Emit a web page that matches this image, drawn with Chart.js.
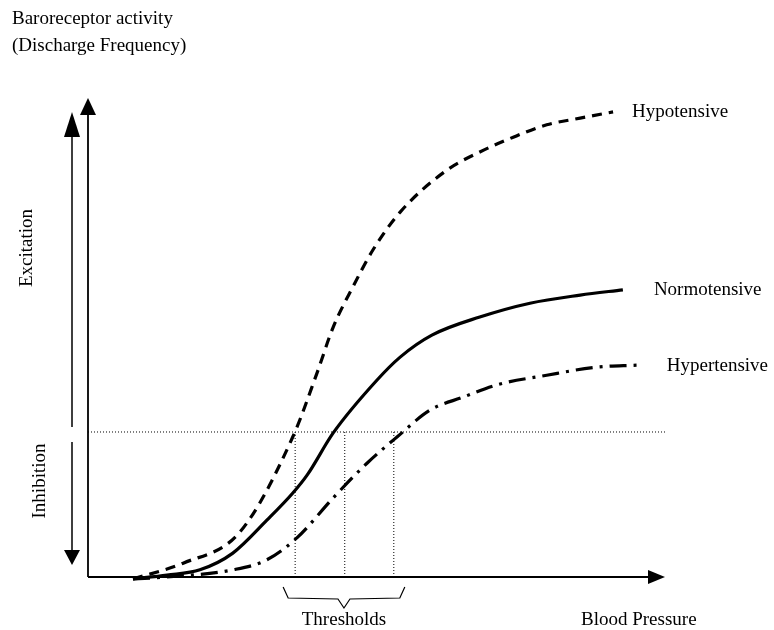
<!DOCTYPE html>
<html>
<head>
<meta charset="utf-8">
<script src="https://cdn.jsdelivr.net/npm/chart.js@4/dist/chart.umd.min.js"></script>
<style>
html,body{margin:0;padding:0;background:#fff;}
#wrap{width:774px;height:630px;}
</style>
</head>
<body>
<div id="wrap"><canvas id="baroChart" width="774" height="630"></canvas></div>
<script>
// Blood pressure (x) vs discharge frequency (y), arbitrary units 0-100

const hypoX = [7.8,16.5,26.3,35.5,39.7,42.5,45.9,49.4,54.1,62.2,67.9,73.7,79.5,85.3,91.0];
const hypoY = [-0.4,2.9,9.4,29.4,42.8,52.4,60.8,68.6,76.5,85.3,89.1,92.2,94.8,96.2,97.5];

const normoX = [7.8,13.7,19.4,25.1,31.0,35.5,38.0,42.5,50.1,54.1,59.6,67.9,76.6,85.3,92.7];
const normoY = [-0.4,0.4,1.5,5.0,11.9,17.6,21.4,30.2,41.3,46.1,50.7,54.5,57.4,59.1,60.2];

const hyperX = [7.8,13.7,25.1,31.0,36.2,42.5,48.4,53.6,59.3,65.0,70.9,79.5,88.2,95.1];
const hyperY = [-0.4,0,1.5,3.6,8.2,16.6,23.9,29.4,35.0,37.7,40.3,42.3,44.0,44.4];

const curveNames = ["Hypotensive","Normotensive","Hypertensive"];

// threshold level and the three threshold pressures
const thresholdLevel = 30.4;
const thresholdX = [35.9,44.5,53.0];

function pts(xs, ys){ return xs.map((x,i)=>({x:x,y:ys[i]})); }

const FONT = '19px "Liberation Serif", "Times New Roman", serif';

const curveStyle = {
  borderColor:"#000",
  borderWidth:3.2,
  pointRadius:0,
  fill:false,
  cubicInterpolationMode:"monotone",
  clip:false
};

const datasets = [
  Object.assign({label:curveNames[0], data:pts(hypoX,hypoY), borderDash:[10,7]}, curveStyle),
  Object.assign({label:curveNames[1], data:pts(normoX,normoY)}, curveStyle),
  Object.assign({label:curveNames[2], data:pts(hyperX,hyperY), borderDash:[17,7,3,7]}, curveStyle),
  {label:"level", data:[{x:0,y:thresholdLevel},{x:100,y:thresholdLevel}],
   borderColor:"#000", borderWidth:1, borderDash:[1,2], pointRadius:0}
];
thresholdX.forEach(function(t){
  datasets.push({label:"t", data:[{x:t,y:0},{x:t,y:thresholdLevel}],
    borderColor:"#000", borderWidth:1, borderDash:[1,2], pointRadius:0});
});

function arrowHead(ctx, tx, ty, dir, len, half){
  ctx.beginPath();
  if(dir==="up"){ ctx.moveTo(tx,ty); ctx.lineTo(tx-half,ty+len); ctx.lineTo(tx+half,ty+len); }
  if(dir==="down"){ ctx.moveTo(tx,ty); ctx.lineTo(tx-half,ty-len); ctx.lineTo(tx+half,ty-len); }
  if(dir==="right"){ ctx.moveTo(tx,ty); ctx.lineTo(tx-len,ty-half); ctx.lineTo(tx-len,ty+half); }
  ctx.closePath();
  ctx.fill();
}

const decor = {
  id:"decor",
  afterDraw(chart){
    const ctx = chart.ctx;
    const xs = chart.scales.x, ys = chart.scales.y;
    const x0 = xs.getPixelForValue(0), y0 = ys.getPixelForValue(0);
    const xEnd = xs.getPixelForValue(100), yTop = ys.getPixelForValue(100.4);
    ctx.save();
    ctx.strokeStyle = "#000"; ctx.fillStyle = "#000";
    ctx.lineWidth = 1.8;
    // axes
    ctx.beginPath();
    ctx.moveTo(x0, y0); ctx.lineTo(x0, yTop+14);
    ctx.moveTo(x0, y0); ctx.lineTo(xEnd-16, y0);
    ctx.stroke();
    arrowHead(ctx, x0, yTop, "up", 17, 8);
    arrowHead(ctx, xEnd, y0, "right", 17, 7);

    // excitation / inhibition double arrow
    const ax = 72;
    const yLev = ys.getPixelForValue(thresholdLevel);
    ctx.lineWidth = 1.5;
    ctx.beginPath();
    ctx.moveTo(ax, 135); ctx.lineTo(ax, yLev-5);
    ctx.moveTo(ax, yLev+10); ctx.lineTo(ax, 552);
    ctx.stroke();
    arrowHead(ctx, ax, 112, "up", 25, 8);
    arrowHead(ctx, ax, 565, "down", 15, 8);

    // brace under thresholds
    const bl = xs.getPixelForValue(thresholdX[0]) - 12;
    const br = xs.getPixelForValue(thresholdX[2]) + 11;
    const bm = (bl+br)/2;
    ctx.lineWidth = 1.2;
    ctx.beginPath();
    ctx.moveTo(bl, y0+10);
    ctx.lineTo(bl+5, y0+21);
    ctx.lineTo(bm-6, y0+22);
    ctx.lineTo(bm, y0+31);
    ctx.lineTo(bm+6, y0+22);
    ctx.lineTo(br-5, y0+21);
    ctx.lineTo(br, y0+10);
    ctx.stroke();

    // texts
    ctx.font = FONT;
    ctx.textBaseline = "middle";
    ctx.textAlign = "left";
    ctx.fillText("Baroreceptor activity", 12, 19);
    ctx.fillText("(Discharge Frequency)", 12, 46);
    const last = function(xsArr, ysArr){ return [xs.getPixelForValue(xsArr[xsArr.length-1]), ys.getPixelForValue(ysArr[ysArr.length-1])]; };
    let p = last(hypoX,hypoY);  ctx.fillText(curveNames[0], p[0]+19, p[1]);
    p = last(normoX,normoY);    ctx.fillText(curveNames[1], p[0]+31, p[1]);
    p = last(hyperX,hyperY);    ctx.fillText(curveNames[2], p[0]+30, p[1]+1);
    ctx.fillText("Blood Pressure", 581, 620);
    ctx.textAlign = "center";
    ctx.fillText("Thresholds", bm, 620);

    ctx.save();
    ctx.translate(27, 248); ctx.rotate(-Math.PI/2);
    ctx.fillText("Excitation", 0, 0);
    ctx.restore();
    ctx.save();
    ctx.translate(40, 481); ctx.rotate(-Math.PI/2);
    ctx.fillText("Inhibition", 0, 0);
    ctx.restore();
    ctx.restore();
  }
};

new Chart(
document.getElementById("baroChart"),
{
type:"line",
data:{ datasets:datasets },
options:{
  responsive:false,
  animation:false,
  events:[],
  layout:{ padding:{ left:88, right:109, top:100, bottom:53 } },
  scales:{
    x:{ type:"linear", min:0, max:100, display:false },
    y:{ type:"linear", min:0, max:100, display:false }
  },
  plugins:{ legend:{ display:false }, tooltip:{ enabled:false } }
},
plugins:[decor]
}
);
</script>
</body>
</html>
